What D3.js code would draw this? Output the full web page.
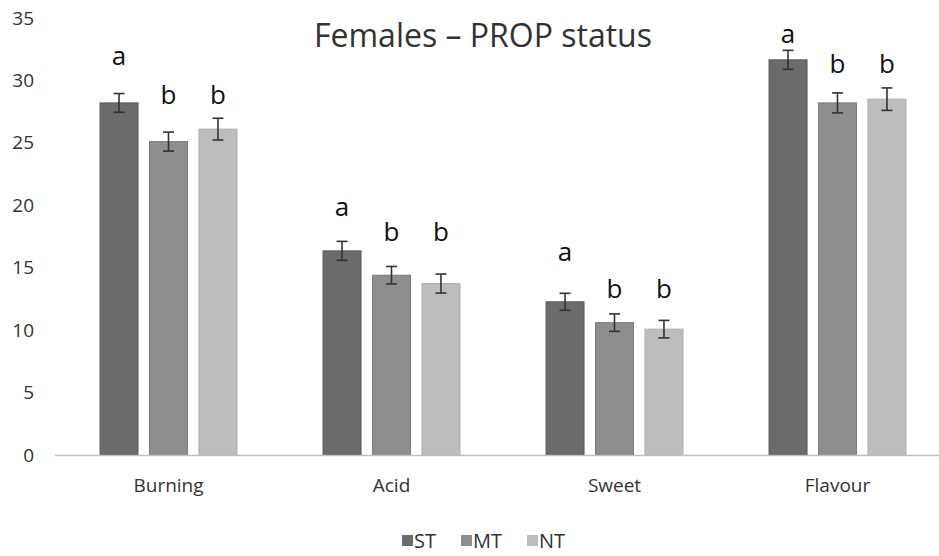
<!DOCTYPE html>
<html>
<head>
<meta charset="utf-8">
<script src="https://cdn.jsdelivr.net/npm/d3@7"></script>
<style>
  body { margin: 0; background: #fff; }
  svg { display: block; font-family: "Open Sans", "DejaVu Sans", sans-serif; }
</style>
</head>
<body>
<svg id="chart" width="939" height="556"></svg>
<script>
// ---- data ----
const categories = ["Burning", "Acid", "Sweet", "Flavour"];
const series = ["ST", "MT", "NT"];
const valuesST = [28.2, 16.35, 12.27, 31.65];
const valuesMT = [25.1, 14.4, 10.6, 28.2];
const valuesNT = [26.1, 13.73, 10.08, 28.5];
const errST = [0.75, 0.76, 0.68, 0.76];
const errMT = [0.76, 0.70, 0.70, 0.80];
const errNT = [0.87, 0.76, 0.70, 0.90];
const lettersST = ["a", "a", "a", "a"];
const lettersMT = ["b", "b", "b", "b"];
const lettersNT = ["b", "b", "b", "b"];
// letter heights in data units (as placed in the original)
const letterPosST = [31.9, 19.76, 16.2, 33.6];
const letterPosMT = [28.7, 17.8, 13.2, 31.2];
const letterPosNT = [28.7, 17.8, 13.2, 31.2];
const yTicks = [0, 5, 10, 15, 20, 25, 30, 35];
const title = "Females \u2013 PROP status";

const colors = { ST: "#6b6b6b", MT: "#8e8e8e", NT: "#bdbdbd" };
const strokes = { ST: "#5a5a5a", MT: "#7c7c7c", NT: "#adadad" };

const valueBy = { ST: valuesST, MT: valuesMT, NT: valuesNT };
const errBy = { ST: errST, MT: errMT, NT: errNT };
const letterBy = { ST: lettersST, MT: lettersMT, NT: lettersNT };
const letterPosBy = { ST: letterPosST, MT: letterPosMT, NT: letterPosNT };

const table = [];
categories.forEach((c, i) => {
  series.forEach(s => {
    table.push({ cat: c, s, v: valueBy[s][i], e: errBy[s][i], l: letterBy[s][i], lp: letterPosBy[s][i] });
  });
});

// ---- layout ----
const svg = d3.select("#chart");
const W = 939, H = 556;

const y = d3.scaleLinear().domain([0, 35]).range([455, 18]);
const x0 = d3.scaleBand().domain(categories).range([57, 949])
  .paddingInner(0.386).paddingOuter(0.193);
const x1 = d3.scaleBand().domain(series).range([0, x0.bandwidth()])
  .paddingInner(0.232).paddingOuter(0);

// title
svg.append("text")
  .attr("x", 483).attr("y", 47)
  .attr("text-anchor", "middle")
  .attr("font-size", 32)
  .attr("fill", "#333")
  .text(title);

// y axis labels
const yAxis = d3.axisLeft(y).tickValues(yTicks).tickSize(0).tickPadding(0);
const gy = svg.append("g").attr("transform", "translate(34,0)").call(yAxis);
gy.select(".domain").remove();
gy.selectAll("text").attr("font-size", 19).attr("fill", "#333")
  .attr("font-family", "'Open Sans', sans-serif");

// bars
svg.append("g").selectAll("rect").data(table).join("rect")
  .attr("x", d => x0(d.cat) + x1(d.s))
  .attr("y", d => y(d.v))
  .attr("width", x1.bandwidth())
  .attr("height", d => y(0) - y(d.v))
  .attr("fill", d => colors[d.s])
  .attr("stroke", d => strokes[d.s])
  .attr("stroke-width", 1);

// baseline
svg.append("line")
  .attr("x1", 55).attr("x2", W)
  .attr("y1", y(0) + 0.5).attr("y2", y(0) + 0.5)
  .attr("stroke", "#bfbfbf").attr("stroke-width", 1.5);

// error bars
const eg = svg.append("g").attr("stroke", "#333").attr("stroke-width", 1.6);
table.forEach(d => {
  const cx = x0(d.cat) + x1(d.s) + x1.bandwidth() / 2;
  eg.append("line").attr("x1", cx).attr("x2", cx).attr("y1", y(d.v + d.e)).attr("y2", y(d.v - d.e));
  eg.append("line").attr("x1", cx - 5.5).attr("x2", cx + 5.5).attr("y1", y(d.v + d.e)).attr("y2", y(d.v + d.e));
  eg.append("line").attr("x1", cx - 5.5).attr("x2", cx + 5.5).attr("y1", y(d.v - d.e)).attr("y2", y(d.v - d.e));
});

// significance letters
svg.append("g").selectAll("text").data(table).join("text")
  .attr("x", d => x0(d.cat) + x1(d.s) + x1.bandwidth() / 2)
  .attr("y", d => y(d.lp))
  .attr("dy", "0.3em")
  .attr("text-anchor", "middle")
  .attr("font-size", 26)
  .attr("font-weight", 500)
  .attr("fill", "#111")
  .text(d => d.l);

// x axis labels
const xAxis = d3.axisBottom(x0).tickSize(0).tickPadding(0);
const gx = svg.append("g").attr("transform", "translate(0,478)").call(xAxis);
gx.select(".domain").remove();
gx.selectAll("text").attr("font-size", 19).attr("fill", "#333")
  .attr("font-family", "'Open Sans', sans-serif");

// legend
const legendX = { ST: 402, MT: 461, NT: 527 };
const lg = svg.append("g");
series.forEach(s => {
  lg.append("rect").attr("x", legendX[s]).attr("y", 535).attr("width", 11).attr("height", 11)
    .attr("fill", colors[s]);
  lg.append("text").attr("x", legendX[s] + 12).attr("y", 548)
    .attr("font-size", 20).attr("fill", "#333").text(s);
});
</script>
</body>
</html>
